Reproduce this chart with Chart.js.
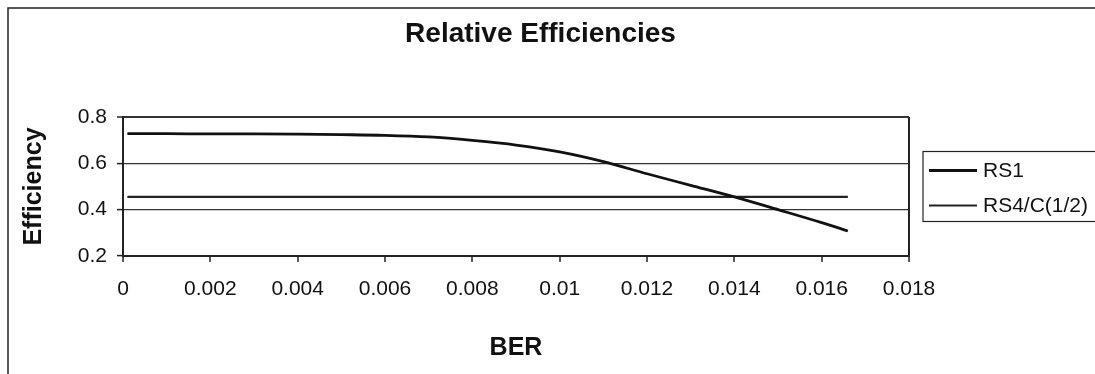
<!DOCTYPE html>
<html>
<head>
<meta charset="utf-8">
<title>Relative Efficiencies</title>
<script src="https://cdn.jsdelivr.net/npm/chart.js@4/dist/chart.umd.min.js"></script>
<style>
  html, body { margin: 0; padding: 0; background: #fff; overflow: hidden; }
  #wrap { width: 1095px; height: 374px; }
</style>
</head>
<body>
<div id="wrap"><canvas id="effChart"></canvas></div>
<script>
// Efficiency vs. bit error rate
const ber = [0.0001, 0.001, 0.002, 0.003, 0.004, 0.005, 0.006, 0.007, 0.008,
             0.009, 0.010, 0.011, 0.012, 0.013, 0.014, 0.015, 0.016, 0.0166];
const rs1 = [0.728, 0.728, 0.727, 0.727, 0.726, 0.724, 0.721, 0.714, 0.699,
             0.679, 0.649, 0.607, 0.555, 0.505, 0.455, 0.400, 0.344, 0.308];
const rs4c = [0.455, 0.455, 0.455, 0.455, 0.455, 0.455, 0.455, 0.455, 0.455,
              0.455, 0.455, 0.455, 0.455, 0.455, 0.455, 0.455, 0.455, 0.455];
const berTicks = [0, 0.002, 0.004, 0.006, 0.008, 0.01, 0.012, 0.014, 0.016, 0.018];
const effTicks = [0.2, 0.4, 0.6, 0.8];
const seriesNames = ['RS1', 'RS4/C(1/2)'];

const FONT = "'Liberation Sans', Arial, sans-serif";

function points(ys) {
    return ber.map((x, i) => ({ x: x, y: ys[i] }));
}

// boxed legend to the right of the plot plus the outer frame
const frameLegend = {
    id: 'frameLegend',
    afterDraw(chart) {
        const ctx = chart.ctx;
        const area = chart.chartArea;
        ctx.save();
        // outer frame (top and left edges, the rest runs off the page)
        ctx.strokeStyle = '#222';
        ctx.lineWidth = 1.5;
        ctx.beginPath();
        ctx.moveTo(chart.width + 20, 8);
        ctx.lineTo(8, 8);
        ctx.lineTo(8, chart.height + 20);
        ctx.stroke();

        // legend box, cut by the right edge
        const boxX = area.right + 14;
        const boxY = (area.top + area.bottom) / 2 - 35;
        ctx.strokeStyle = '#222';
        ctx.lineWidth = 1.2;
        ctx.strokeRect(boxX, boxY, chart.width - boxX + 30, 70);

        ctx.font = '21px ' + FONT;
        ctx.textBaseline = 'middle';
        ctx.fillStyle = '#111';
        chart.data.datasets.forEach((ds, i) => {
            const y = boxY + 19 + i * 35;
            ctx.strokeStyle = ds.borderColor;
            ctx.lineWidth = ds.borderWidth;
            ctx.beginPath();
            ctx.moveTo(boxX + 6, y);
            ctx.lineTo(boxX + 54, y);
            ctx.stroke();
            ctx.fillText(ds.label, boxX + 60, y + 1);
        });
        ctx.restore();
    }
};

new Chart(document.getElementById('effChart'), {
    type: 'line',
    data: {
        datasets: [{
            label: seriesNames[0],
            data: points(rs1),
            borderColor: '#111',
            borderWidth: 2.8,
            pointRadius: 0,
            cubicInterpolationMode: 'monotone',
            fill: false
        }, {
            label: seriesNames[1],
            data: points(rs4c),
            borderColor: '#222',
            borderWidth: 2.2,
            pointRadius: 0,
            fill: false
        }]
    },
    options: {
        responsive: true,
        maintainAspectRatio: false,
        animation: false,
        layout: { padding: { left: 0, right: 14, top: 0, bottom: 0 } },
        plugins: {
            legend: { display: false },
            tooltip: { enabled: false },
            title: {
                display: true,
                text: 'Relative Efficiencies',
                color: '#111',
                font: { family: FONT, size: 28, weight: 'bold' },
                padding: { top: 17, bottom: 66.4 }
            }
        },
        scales: {
            x: {
                type: 'linear',
                min: 0,
                max: 0.018,
                afterFit: s => { s.height = 118; },
                afterBuildTicks: s => { s.ticks = berTicks.map(v => ({ value: v })); },
                border: { display: true, color: '#222', width: 2 },
                grid: {
                    drawOnChartArea: true,
                    color: c => c.index === berTicks.length - 1 ? '#222' : 'rgba(0,0,0,0)',
                    lineWidth: 2,
                    tickColor: '#222',
                    tickWidth: 1.5,
                    tickLength: 6
                },
                ticks: {
                    color: '#111',
                    padding: 15,
                    maxRotation: 0,
                    autoSkip: false,
                    font: { family: FONT, size: 21 },
                    callback: v => String(parseFloat(v.toFixed(4)))
                },
                title: {
                    display: true,
                    text: 'BER',
                    color: '#111',
                    font: { family: FONT, size: 25, weight: 'bold' },
                    padding: { top: 0, bottom: 11 }
                }
            },
            y: {
                min: 0.2,
                max: 0.8,
                afterFit: s => { s.width = 123; },
                afterBuildTicks: s => { s.ticks = effTicks.map(v => ({ value: v })); },
                border: { display: true, color: '#222', width: 2 },
                grid: {
                    color: '#333',
                    lineWidth: c => c.index === effTicks.length - 1 ? 2 : 1.2,
                    tickColor: '#222',
                    tickWidth: 1.5,
                    tickLength: 6
                },
                ticks: {
                    color: '#111',
                    padding: 10,
                    font: { family: FONT, size: 21 },
                    callback: v => v.toFixed(1)
                },
                title: {
                    display: true,
                    text: 'Efficiency',
                    color: '#111',
                    font: { family: FONT, size: 25, weight: 'bold' },
                    padding: { top: 19, bottom: 0 }
                }
            },
            // keeps room on the right for the legend box
            legendSpace: {
                position: 'right',
                display: true,
                afterFit: s => { s.width = 172; },
                border: { display: false },
                grid: { display: false, drawTicks: false },
                ticks: { display: false }
            }
        }
    },
    plugins: [frameLegend]
});
</script>
</body>
</html>
